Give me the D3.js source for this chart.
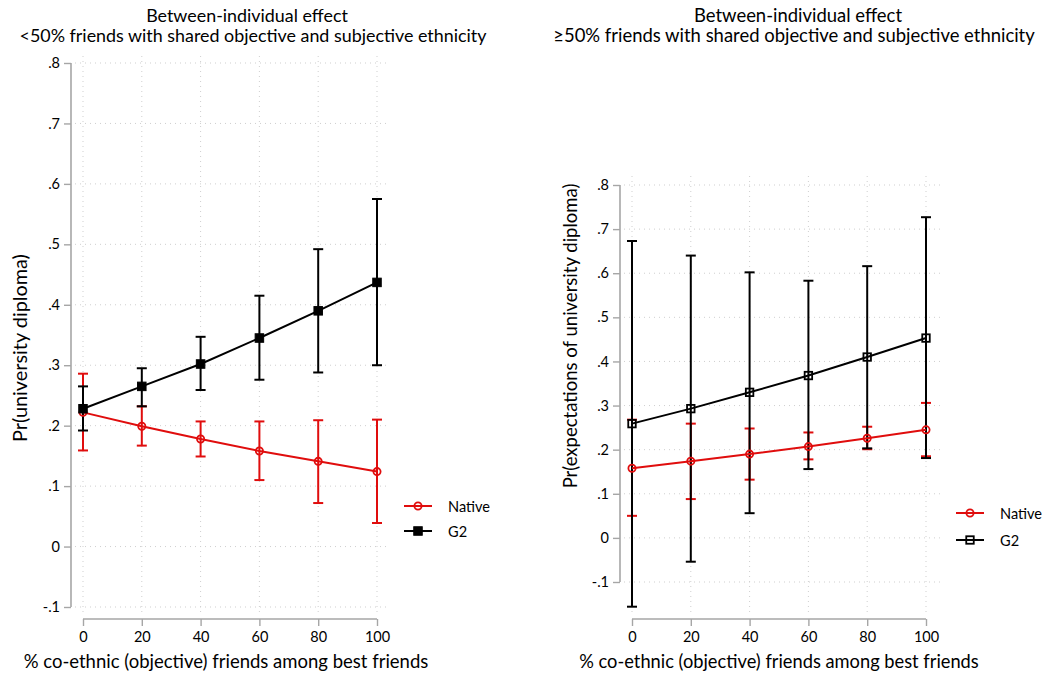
<!DOCTYPE html>
<html>
<head>
<meta charset="utf-8">
<script src="https://cdn.jsdelivr.net/npm/d3@7"></script>
<style>
  body { margin: 0; background: #fff; }
  text { font-family: Lato, "DejaVu Sans", sans-serif; fill: #000; }
</style>
</head>
<body>
<div id="chart"></div>
<script>
// data
var xVals = [0, 20, 40, 60, 80, 100];
var yTicks = [-0.1, 0, 0.1, 0.2, 0.3, 0.4, 0.5, 0.6, 0.7, 0.8];
var seriesNames = ["Native", "G2"];

// left panel: <50% friends
var leftNative   = [0.222, 0.199, 0.178, 0.158, 0.141, 0.124];
var leftNativeLo = [0.159, 0.167, 0.149, 0.110, 0.072, 0.039];
var leftNativeHi = [0.286, 0.232, 0.207, 0.207, 0.209, 0.210];
var leftG2   = [0.228, 0.265, 0.302, 0.345, 0.390, 0.437];
var leftG2Lo = [0.192, 0.232, 0.259, 0.276, 0.288, 0.300];
var leftG2Hi = [0.265, 0.295, 0.347, 0.415, 0.492, 0.575];

// right panel: >=50% friends
var rightNative   = [0.158, 0.174, 0.190, 0.207, 0.226, 0.245];
var rightNativeLo = [0.050, 0.088, 0.132, 0.178, 0.201, 0.185];
var rightNativeHi = [0.268, 0.259, 0.248, 0.239, 0.252, 0.306];
var rightG2   = [0.259, 0.293, 0.330, 0.368, 0.410, 0.453];
var rightG2Lo = [-0.156, -0.054, 0.056, 0.156, 0.203, 0.181];
var rightG2Hi = [0.673, 0.640, 0.602, 0.583, 0.616, 0.727];

var W = 1045, H = 679;
var red = "#e00d0d";
var axisCol = "#a6a6a6";
var gridCol = "#cfcfcf";

var svg = d3.select("#chart").append("svg")
  .attr("width", W).attr("height", H);

function fmt(v) {
  if (Math.abs(v) < 1e-9) return "0";
  return d3.format(".1f")(v).replace("\u2212", "-").replace("0.", ".");
}

// scale the font so the text gets the wanted width
function fit(t, w) {
  var len = t.node().getComputedTextLength();
  var fs = parseFloat(t.style("font-size"));
  t.style("font-size", (fs * w / len) + "px");
  return t;
}

function panel(cfg) {
  var x = d3.scaleLinear().domain([0, 100]).range([cfg.x0, cfg.x1]);
  var y = d3.scaleLinear().domain([-0.1, 0.8]).range([cfg.yBot, cfg.yTop]);
  var g = svg.append("g");

  // grid
  g.append("g").selectAll("line").data(yTicks).enter().append("line")
    .attr("x1", cfg.axisX + 4).attr("x2", cfg.gridRight)
    .attr("y1", function(d) { return y(d); }).attr("y2", function(d) { return y(d); })
    .style("stroke", gridCol).style("stroke-width", 1).style("stroke-dasharray", "1,4");
  g.append("g").selectAll("line").data(xVals).enter().append("line")
    .attr("x1", function(d) { return x(d); }).attr("x2", function(d) { return x(d); })
    .attr("y1", cfg.gridTop).attr("y2", cfg.axisY - 6)
    .style("stroke", gridCol).style("stroke-width", 1).style("stroke-dasharray", "1,4");

  // axes
  var ya = g.append("g").attr("transform", "translate(" + cfg.axisX + ",0)")
    .call(d3.axisLeft(y).tickValues(yTicks).tickFormat(fmt).tickSize(7).tickPadding(4));
  var xa = g.append("g").attr("transform", "translate(0," + cfg.axisY + ")")
    .call(d3.axisBottom(x).tickValues(xVals).tickSize(7).tickPadding(6));
  [ya, xa].forEach(function(a) {
    a.select(".domain").remove();
    a.selectAll(".tick line").style("stroke", axisCol).style("stroke-width", 1.4);
    a.selectAll("text").style("font-family", "Lato, sans-serif").style("font-size", "14.5px").attr("fill", "#000");
  });
  g.append("line").attr("x1", cfg.axisX).attr("x2", cfg.axisX)
    .attr("y1", y(0.8)).attr("y2", y(-0.1))
    .style("stroke", axisCol).style("stroke-width", 1.6);
  g.append("line").attr("x1", x(0)).attr("x2", x(100))
    .attr("y1", cfg.axisY).attr("y2", cfg.axisY)
    .style("stroke", axisCol).style("stroke-width", 1.6);

  // titles
  var t2 = fit(g.append("text").attr("x", cfg.t2c).attr("y", 42).attr("text-anchor", "middle")
    .style("font-size", "16px").text(cfg.title2), cfg.t2w);
  g.append("text").attr("x", cfg.t1c).attr("y", 22).attr("text-anchor", "middle")
    .style("font-size", t2.style("font-size")).text("Between-individual effect");
  fit(g.append("text").attr("x", cfg.xtc).attr("y", 668).attr("text-anchor", "middle")
    .style("font-size", "16px").text("% co-ethnic (objective) friends among best friends"), cfg.xtw);
  fit(g.append("text")
    .attr("transform", "translate(" + cfg.ytX + "," + cfg.ytc + ") rotate(-90)")
    .attr("text-anchor", "middle").style("font-size", "16px").text(cfg.yTitle), cfg.ytw);

  var series = [
    { est: cfg.nat, lo: cfg.natLo, hi: cfg.natHi, col: red, shape: "circle" },
    { est: cfg.g2, lo: cfg.g2Lo, hi: cfg.g2Hi, col: "#000", shape: "square" }
  ];
  var capW = 5;

  series.forEach(function(s) {
    var ci = g.append("g").selectAll("g").data(xVals).enter().append("g");
    ci.append("line")
      .attr("x1", function(d) { return x(d); }).attr("x2", function(d) { return x(d); })
      .attr("y1", function(d, i) { return y(s.lo[i]); }).attr("y2", function(d, i) { return y(s.hi[i]); })
      .style("stroke", s.col).style("stroke-width", 2);
    [s.lo, s.hi].forEach(function(arr) {
      ci.append("line")
        .attr("x1", function(d) { return x(d) - capW; }).attr("x2", function(d) { return x(d) + capW; })
        .attr("y1", function(d, i) { return y(arr[i]); }).attr("y2", function(d, i) { return y(arr[i]); })
        .style("stroke", s.col).style("stroke-width", 2);
    });
  });

  var line = d3.line().x(function(d) { return x(d[0]); }).y(function(d) { return y(d[1]); });
  series.forEach(function(s) {
    g.append("path").datum(xVals.map(function(d, i) { return [d, s.est[i]]; }))
      .attr("d", line).style("fill", "none").style("stroke", s.col).style("stroke-width", 2);
  });
  series.forEach(function(s, k) {
    var pts = g.append("g").selectAll("g").data(xVals).enter().append("g");
    drawMarker(pts, s, k, cfg.g2Filled,
      function(d) { return x(d); }, function(d, i) { return y(s.est[i]); });
  });

  // legend
  var legFont = null;
  series.forEach(function(s, k) {
    var ly = cfg.legY + k * cfg.legGap;
    g.append("line").attr("x1", cfg.legX).attr("x2", cfg.legX + 28)
      .attr("y1", ly).attr("y2", ly).style("stroke", s.col).style("stroke-width", 2);
    var m = g.append("g").datum(0);
    drawMarker(m, s, k, cfg.g2Filled, function() { return cfg.legX + 14; }, function() { return ly; });
    var t = g.append("text").attr("x", cfg.legX + 44).attr("y", ly + 5.5)
      .style("font-size", "15px").text(seriesNames[k]);
    if (legFont === null) { fit(t, 42); legFont = t.style("font-size"); }
    else t.style("font-size", legFont);
  });
}

function drawMarker(sel, s, k, filled, fx, fy) {
  if (s.shape === "circle") {
    sel.append("circle")
      .attr("cx", fx).attr("cy", fy).attr("r", 3.6)
      .style("fill", "none").style("stroke", s.col).style("stroke-width", 1.8);
  } else {
    var sz = filled ? 8.5 : 7.5;
    sel.append("rect")
      .attr("x", function(d, i) { return fx(d, i) - sz / 2; })
      .attr("y", function(d, i) { return fy(d, i) - sz / 2; })
      .attr("width", sz).attr("height", sz)
      .style("fill", filled ? "#000" : "none").style("stroke", "#000").style("stroke-width", filled ? 1 : 1.8);
  }
}

panel({
  x0: 83, x1: 377, yTop: 63, yBot: 607, axisX: 71, axisY: 619,
  gridRight: 390, gridTop: 56,
  title2: "<50% friends with shared objective and subjective ethnicity",
  t1c: 247, t2c: 253, t2w: 467, xtc: 226, xtw: 405,
  yTitle: "Pr(university diploma)", ytX: 27, ytc: 348, ytw: 188,
  nat: leftNative, natLo: leftNativeLo, natHi: leftNativeHi,
  g2: leftG2, g2Lo: leftG2Lo, g2Hi: leftG2Hi, g2Filled: true,
  legX: 404, legY: 506, legGap: 25
});

panel({
  x0: 632, x1: 926, yTop: 185, yBot: 582, axisX: 620, axisY: 619,
  gridRight: 940, gridTop: 176,
  title2: "\u226550% friends with shared objective and subjective ethnicity",
  t1c: 798, t2c: 794, t2w: 482, xtc: 779, xtw: 400,
  yTitle: "Pr(expectations of university diploma)", ytX: 577, ytc: 336, ytw: 305,
  nat: rightNative, natLo: rightNativeLo, natHi: rightNativeHi,
  g2: rightG2, g2Lo: rightG2Lo, g2Hi: rightG2Hi, g2Filled: false,
  legX: 956, legY: 513, legGap: 27
});
</script>
</body>
</html>
